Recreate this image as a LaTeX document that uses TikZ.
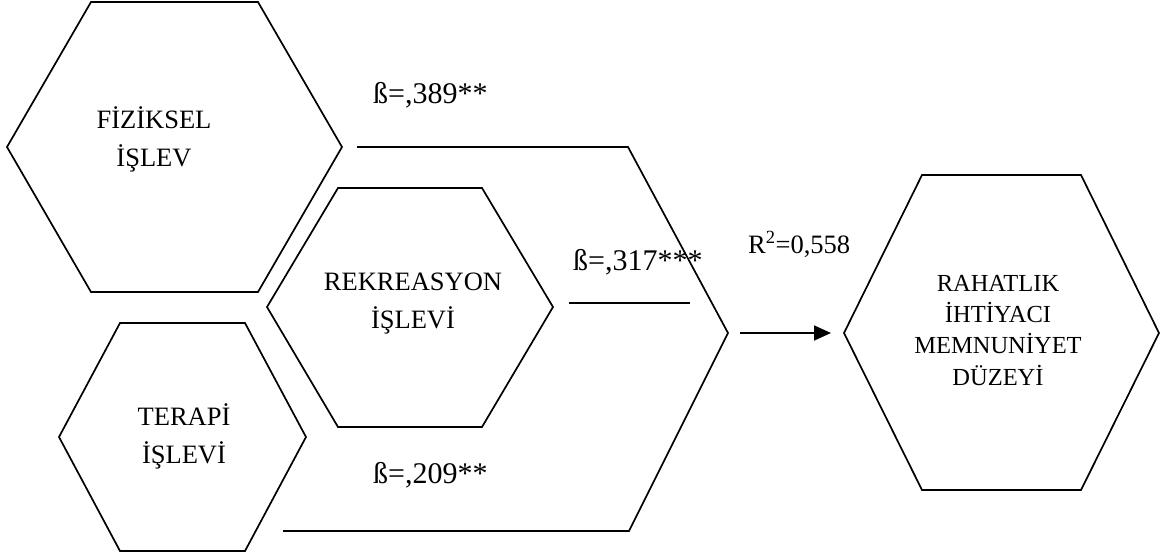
\documentclass[tikz,border=0pt]{standalone}
\usepackage{fontspec}
\setmainfont{Liberation Serif}
\usetikzlibrary{arrows.meta}
\usetikzlibrary{positioning}

\begin{document}
\begin{tikzpicture}[x=1pt,y=-1pt,
  hexa/.style={draw,line width=1.7pt,line join=miter},
  hextext/.style={align=center,anchor=base,inner sep=0pt,font=\fontsize{26.5}{38}\selectfont},
  beta/.style={anchor=base west,inner sep=0pt,font=\fontsize{30}{32}\selectfont}]
\useasboundingbox (0,0) rectangle (1165,557);
% hexagons
\draw[hexa] (91,2)--(258,2)--(342,147)--(258,292)--(91,292)--(7,147)--cycle;
\draw[hexa] (338,188)--(482,188)--(553,307)--(482,427)--(338,427)--(267,307)--cycle;
\draw[hexa] (120,323)--(245,323)--(306,437)--(245,551)--(120,551)--(59,437)--cycle;
\draw[hexa] (922,175)--(1081,175)--(1159,333)--(1081,490)--(922,490)--(844,333)--cycle;
\node[hextext] (fiz) at (154,166) {FİZİKSEL\\İŞLEV};
\node[hextext] (rek) at (413,328) {REKREASYON\\İŞLEVİ};
\node[hextext] (ter) at (184,463) {TERAPİ\\İŞLEVİ};
\node[hextext,font=\fontsize{24.5}{31.3}\selectfont] (rah) at (998,385) {RAHATLIK\\İHTİYACI\\MEMNUNİYET\\DÜZEYİ};
% paths and coefficients
\coordinate (top1) at (357,147);
\coordinate (top2) at (628,147);
\coordinate (tip) at (728,333);
\coordinate (bot2) at (629,531);
\coordinate (bot1) at (283,531);
\coordinate (mid1) at (569,303);
\coordinate (mid2) at (690,303);
\draw[hexa](top1)--(top2)--(tip)--(bot2)--(bot1);
\draw[hexa](mid1)--(mid2);
\node[beta] (b1) at (373,103) {ß=,389**};
\node[beta] (b2) at (573,270) {ß=,317***};
\node[beta] (b3) at (373,483) {ß=,209**};
\node[beta,font=\fontsize{26.5}{30}\selectfont] (r2) at (748,253) {R\textsuperscript{2}=0,558};
\coordinate (arrS) at (740,333);
\coordinate (arrE) at (831,333);
\draw[line width=1.7pt,-{Triangle[length=17pt,width=15pt]}](arrS)--(arrE);
\end{tikzpicture}
\end{document}
